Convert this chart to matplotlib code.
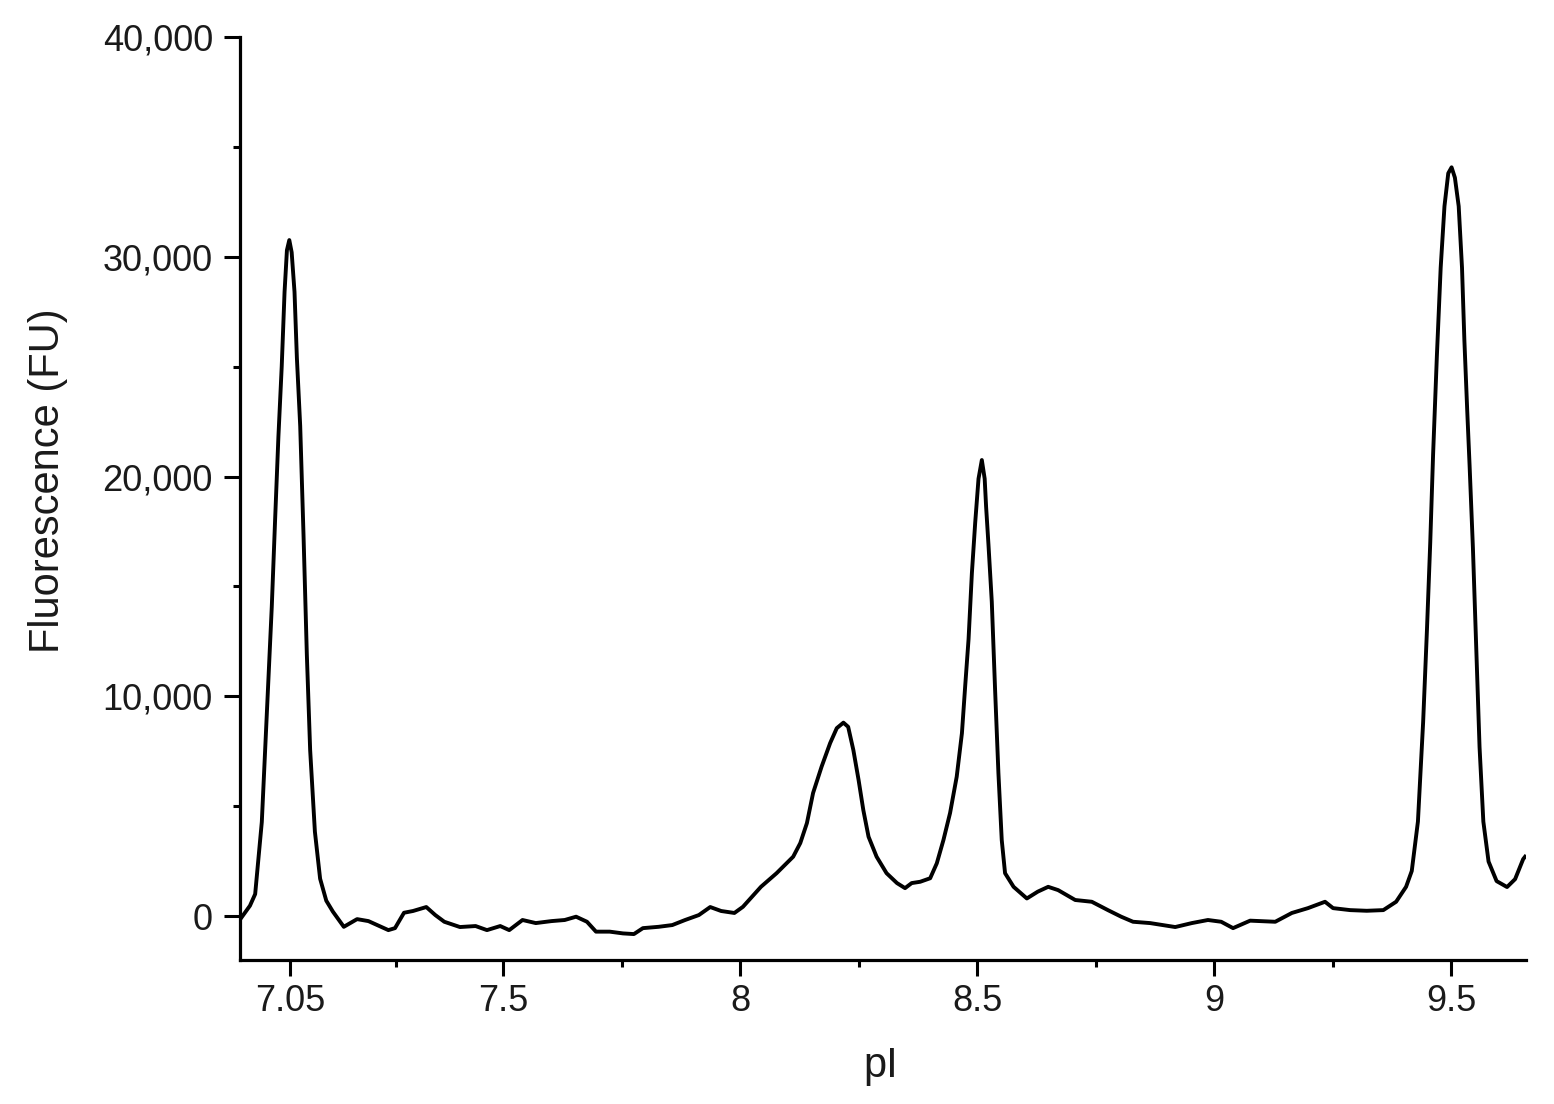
import matplotlib
matplotlib.use("Agg")
import matplotlib.pyplot as plt
from matplotlib.ticker import FuncFormatter

plt.rcParams['font.family'] = ['Liberation Sans', 'DejaVu Sans']

# trace (pI, fluorescence in FU)
pI = [6.947, 6.966, 6.977,
      # peak near 7.05
      6.991, 6.998, 7.005, 7.012, 7.019, 7.026, 7.033, 7.039, 7.044, 7.049,
      7.054, 7.060, 7.065, 7.072, 7.079, 7.086, 7.093,
      # baseline
      7.103, 7.114, 7.127, 7.141, 7.164, 7.192, 7.216, 7.258, 7.272, 7.291,
      7.310, 7.338, 7.357, 7.376, 7.409, 7.442, 7.466, 7.494, 7.513, 7.541,
      7.569, 7.602, 7.630, 7.654, 7.677, 7.696, 7.725, 7.753, 7.776, 7.795,
      7.828, 7.857, 7.884, 7.913, 7.937, 7.960, 7.988, 8.006, 8.044, 8.077,
      8.112,
      # broad peak near 8.2
      8.127, 8.141, 8.154, 8.172, 8.190, 8.204, 8.218, 8.228, 8.239, 8.250,
      8.260, 8.271, 8.288, 8.309, 8.331, 8.348, 8.362, 8.380, 8.401, 8.415,
      8.429, 8.443, 8.457,
      # peak near 8.5
      8.468, 8.475, 8.482, 8.489, 8.496, 8.503, 8.510, 8.516, 8.519, 8.524,
      8.531, 8.538,
      # baseline
      8.545, 8.552, 8.559, 8.577, 8.605, 8.628, 8.650, 8.671, 8.707, 8.742,
      8.776, 8.804, 8.829, 8.865, 8.918, 8.953, 8.987, 9.015, 9.040, 9.076,
      9.129, 9.164, 9.198, 9.234, 9.251, 9.287, 9.322, 9.357, 9.384, 9.405,
      9.417,
      # peak near 9.5
      9.430, 9.441, 9.449, 9.456, 9.462, 9.470, 9.478, 9.486, 9.494, 9.501,
      9.508, 9.516, 9.523, 9.528, 9.534, 9.539, 9.546, 9.553, 9.560, 9.568,
      9.579, 9.596, 9.618, 9.635, 9.652, 9.656]
fluorescence = [-100, 470, 1000,
                4280, 7550, 10830, 14060, 18000, 21800, 25000, 28400, 30300, 30760,
                30200, 28400, 25400, 22300, 17340, 11900, 7550,
                3840, 1700, 700, 200, -490, -140, -230, -640, -550, 150,
                230, 410, 45, -260, -500, -455, -640, -455, -640, -180,
                -320, -230, -180, -30, -260, -710, -710, -790, -820, -550,
                -490, -410, -180, 45, 410, 230, 140, 420, 1330, 1950,
                2700,
                3320, 4230, 5600, 6800, 7870, 8550, 8800, 8610, 7550, 6190,
                4820, 3610, 2700, 1950, 1500, 1270, 1500, 1560, 1720, 2400,
                3460, 4690, 6340,
                8320, 10500, 12600, 15600, 17900, 19900, 20750, 19900, 18630, 16900,
                14300, 10280,
                6500, 3460, 1950, 1330, 800, 1110, 1330, 1180, 730, 650,
                270, -30, -260, -320, -500, -320, -180, -260, -550, -210,
                -260, 140, 360, 650, 360, 270, 240, 270, 650, 1330,
                2050,
                4300, 8830, 13000, 17000, 21000, 25500, 29500, 32300, 33800, 34070,
                33600, 32300, 29500, 26200, 23000, 20500, 16750, 12220, 7690, 4300,
                2480, 1590, 1320, 1680, 2590, 2700]

x_major = [7.05, 7.5, 8, 8.5, 9, 9.5]
x_major_labels = ['7.05', '7.5', '8', '8.5', '9', '9.5']
x_minor = [7.275, 7.75, 8.25, 8.75, 9.25]
y_major = [0, 10000, 20000, 30000, 40000]
y_minor = [5000, 15000, 25000, 35000]

fig = plt.figure(figsize=(15.54, 11.04), dpi=100)
ax = fig.add_axes([240 / 1554, 1 - 960 / 1104, 1286 / 1554, 923 / 1104])

ax.plot(pI, fluorescence, color='black', lw=2.8, solid_joinstyle='round')

ax.set_xlim(6.945, 9.658)
ax.set_ylim(-2000, 40000)

ax.set_xticks(x_major)
ax.set_xticklabels(x_major_labels)
ax.set_xticks(x_minor, minor=True)
ax.set_yticks(y_major)
ax.set_yticks(y_minor, minor=True)
ax.yaxis.set_major_formatter(FuncFormatter(lambda v, p: f'{v:,.0f}'))

for s in ['top', 'right']:
    ax.spines[s].set_visible(False)
for s in ['left', 'bottom']:
    ax.spines[s].set_linewidth(2.3)

ax.tick_params(which='major', direction='out', length=11.5, width=2.2,
               labelsize=26, labelcolor='#1a1a1a')
ax.tick_params(which='minor', direction='out', length=5, width=2.2)
ax.tick_params(axis='x', which='major', pad=6)
ax.tick_params(axis='y', which='major', pad=8)

ax.set_xlabel('pI', fontsize=30, color='#1a1a1a')
ax.set_ylabel('Fluorescence (FU)', fontsize=30, color='#1a1a1a')
ax.xaxis.set_label_coords(0.498, -0.093)
ax.yaxis.set_label_coords(-0.149, 0.519)
ax.yaxis.label.set_va('center')

fig.savefig('out.png', dpi=100, facecolor='white')
